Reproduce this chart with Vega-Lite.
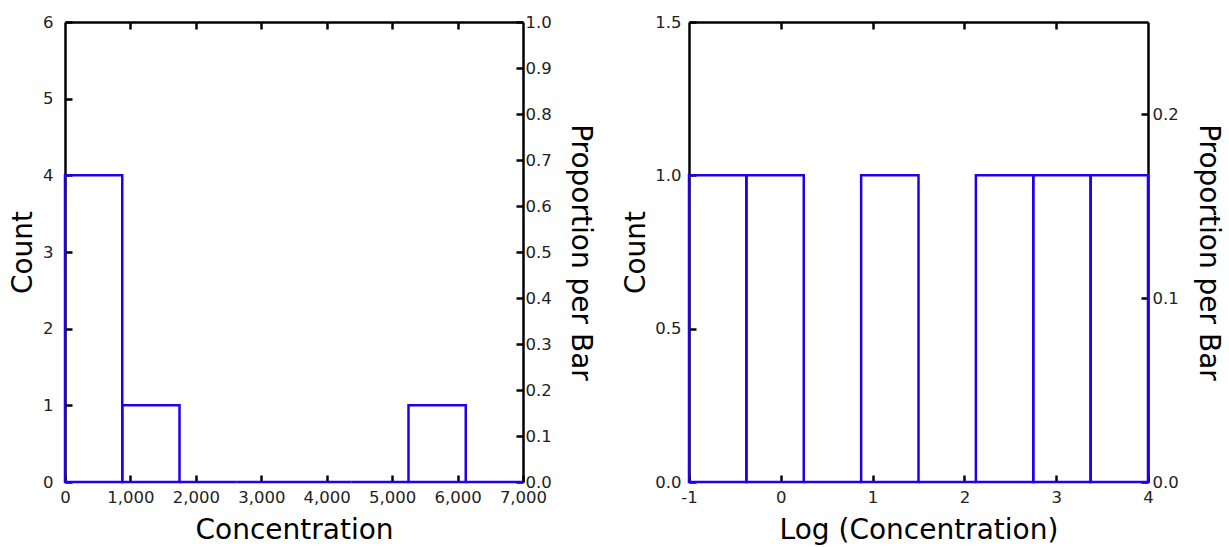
{
  "$schema": "https://vega.github.io/schema/vega-lite/v6.json",
  "background": "white",
  "padding": {"left": 9, "top": 14, "right": 5, "bottom": 0},
  "spacing": 28,
  "config": {
    "view": {"stroke": null},
    "font": "DejaVu Sans",
    "axis": {
      "grid": false,
      "domainColor": "black",
      "domainWidth": 2.5,
      "tickColor": "black",
      "tickWidth": 2.5,
      "tickSize": -7,
      "labelFont": "DejaVu Sans",
      "labelFontSize": 16.5,
      "labelColor": "#222",
      "titleFont": "DejaVu Sans",
      "titleFontSize": 28,
      "titleFontWeight": "normal",
      "titleColor": "black",
      "labelFlush": false,
      "labelOverlap": false
    }
  },
  "datasets": {
    "linear": [
      {"lo": 0, "hi": 875, "count": 4, "prop": 0.6667},
      {"lo": 875, "hi": 1750, "count": 1, "prop": 0.1667},
      {"lo": 1750, "hi": 2625, "count": 0, "prop": 0},
      {"lo": 2625, "hi": 3500, "count": 0, "prop": 0},
      {"lo": 3500, "hi": 4375, "count": 0, "prop": 0},
      {"lo": 4375, "hi": 5250, "count": 0, "prop": 0},
      {"lo": 5250, "hi": 6125, "count": 1, "prop": 0.1667},
      {"lo": 6125, "hi": 7000, "count": 0, "prop": 0}
    ],
    "log": [
      {"lo": -1, "hi": -0.375, "count": 1, "prop": 0.1667},
      {"lo": -0.375, "hi": 0.25, "count": 1, "prop": 0.1667},
      {"lo": 0.25, "hi": 0.875, "count": 0, "prop": 0},
      {"lo": 0.875, "hi": 1.5, "count": 1, "prop": 0.1667},
      {"lo": 1.5, "hi": 2.125, "count": 0, "prop": 0},
      {"lo": 2.125, "hi": 2.75, "count": 1, "prop": 0.1667},
      {"lo": 2.75, "hi": 3.375, "count": 1, "prop": 0.1667},
      {"lo": 3.375, "hi": 4, "count": 1, "prop": 0.1667}
    ]
  },
  "hconcat": [
    {
      "width": 458,
      "height": 460,
      "data": {"name": "linear"},
      "resolve": {"scale": {"x": "independent", "y": "independent"}, "axis": {"x": "independent", "y": "independent"}},
      "layer": [
        {
          "mark": {"type": "rect", "fill": null, "stroke": "#2200ee", "strokeWidth": 2.5},
          "encoding": {
            "x": {"field": "lo", "type": "quantitative", "scale": {"domain": [0, 7000], "nice": false, "zero": false},
              "axis": {"orient": "bottom", "title": "Concentration", "values": [0, 1000, 2000, 3000, 4000, 5000, 6000, 7000], "format": ",d", "domain": false, "labelPadding": 14, "titlePadding": 11}},
            "x2": {"field": "hi"},
            "y": {"field": "count", "type": "quantitative", "scale": {"domain": [0, 6], "nice": false},
              "axis": {"orient": "left", "title": "Count", "values": [0, 1, 2, 3, 4, 5, 6], "format": "d", "labelPadding": 19, "titlePadding": 5}},
            "y2": {"datum": 0}
          }
        },
        {
          "mark": {"type": "rect", "opacity": 0},
          "encoding": {
            "x": {"field": "lo", "type": "quantitative", "scale": {"domain": [0, 7000], "nice": false, "zero": false},
              "axis": {"orient": "top", "title": null, "values": [1000, 2000, 3000, 4000, 5000, 6000], "labels": false}},
            "x2": {"field": "hi"},
            "y": {"field": "prop", "type": "quantitative", "scale": {"domain": [0, 1], "nice": false},
              "axis": {"orient": "right", "title": "Proportion per Bar", "values": [0, 0.1, 0.2, 0.3, 0.4, 0.5, 0.6, 0.7, 0.8, 0.9, 1.0], "format": ".1f", "labelPadding": 9, "titlePadding": 14}},
            "y2": {"datum": 0}
          }
        }
      ]
    },
    {
      "width": 459,
      "height": 460,
      "data": {"name": "log"},
      "resolve": {"scale": {"x": "independent", "y": "independent"}, "axis": {"x": "independent", "y": "independent"}},
      "layer": [
        {
          "mark": {"type": "rect", "fill": null, "stroke": "#2200ee", "strokeWidth": 2.5},
          "encoding": {
            "x": {"field": "lo", "type": "quantitative", "scale": {"domain": [-1, 4], "nice": false, "zero": false},
              "axis": {"orient": "bottom", "title": "Log (Concentration)", "values": [-1, 0, 1, 2, 3, 4], "labelExpr": "'' + datum.value", "domain": false, "labelPadding": 14, "titlePadding": 11}},
            "x2": {"field": "hi"},
            "y": {"field": "count", "type": "quantitative", "scale": {"domain": [0, 1.5], "nice": false},
              "axis": {"orient": "left", "title": "Count", "values": [0, 0.5, 1, 1.5], "format": ".1f", "labelPadding": 15, "titlePadding": 4}},
            "y2": {"datum": 0}
          }
        },
        {
          "mark": {"type": "rect", "opacity": 0},
          "encoding": {
            "x": {"field": "lo", "type": "quantitative", "scale": {"domain": [-1, 4], "nice": false, "zero": false},
              "axis": {"orient": "top", "title": null, "values": [0, 1, 2, 3], "labels": false}},
            "x2": {"field": "hi"},
            "y": {"field": "prop", "type": "quantitative", "scale": {"domain": [0, 0.25], "nice": false},
              "axis": {"orient": "right", "title": "Proportion per Bar", "values": [0, 0.1, 0.2], "format": ".1f", "labelPadding": 11, "titlePadding": 15}},
            "y2": {"datum": 0}
          }
        }
      ]
    }
  ]
}
